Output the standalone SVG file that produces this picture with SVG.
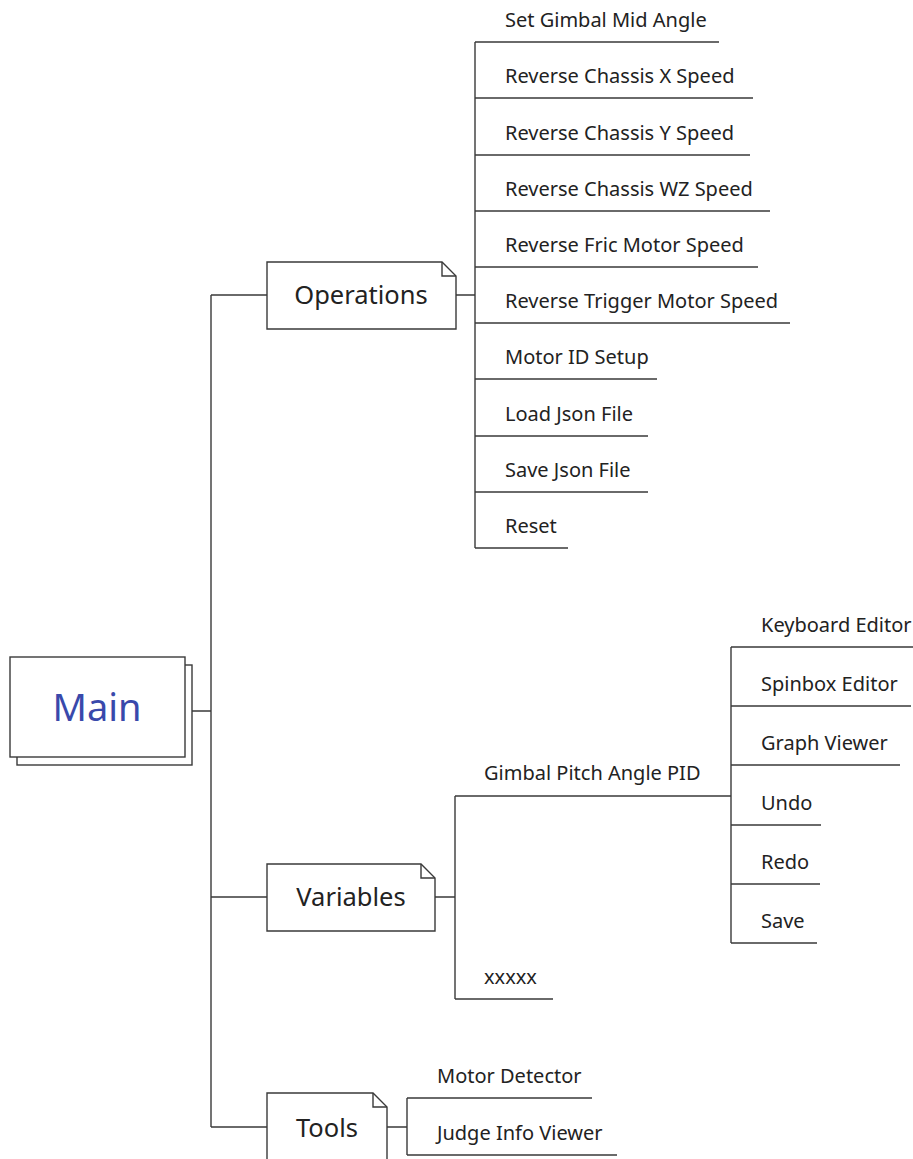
<svg xmlns="http://www.w3.org/2000/svg" width="913" height="1159" viewBox="0 0 913 1159">
  <style>
    .ln { fill: none; stroke: #3a3a3a; stroke-width: 1.4; }
    .box { fill: #ffffff; stroke: #3a3a3a; stroke-width: 1.4; }
    .leaf { font-family: "Noto Sans", "DejaVu Sans", sans-serif; font-size: 20px; fill: #222222; }
    .topic { font-family: "Noto Sans", "DejaVu Sans", sans-serif; font-size: 25.5px; fill: #222222; text-anchor: middle; }
    .root { font-family: "Noto Sans", "DejaVu Sans", sans-serif; font-size: 38px; fill: #3949ab; text-anchor: middle; }
  </style>
  <rect width="913" height="1159" fill="#ffffff"/>

  <!-- connectors -->
  <g id="connectors" class="ln">
    <!-- root to trunk -->
    <path d="M192 711 H211 M211 295 V1127"/>
    <path d="M211 295 H267 M211 897 H267 M211 1127 H267"/>
    <!-- Operations branch -->
    <path d="M456 295 H475 M475 42 V548"/>
    <path d="M475 42 H719 M475 98 H753 M475 155 H750 M475 211 H770 M475 267 H758 M475 323 H790 M475 379 H657 M475 436 H648 M475 492 H648 M475 548 H568"/>
    <!-- Variables branch -->
    <path d="M435 897 H455 M455 796 V999"/>
    <path d="M455 796 H731 M455 999 H553"/>
    <!-- PID sub-branch -->
    <path d="M731 647 V943"/>
    <path d="M731 647 H913 M731 706 H911 M731 765 H900 M731 825 H821 M731 884 H820 M731 943 H817"/>
    <!-- Tools branch -->
    <path d="M387 1127 H407 M407 1098 V1155"/>
    <path d="M407 1098 H592 M407 1155 H617"/>
  </g>

  <!-- root node -->
  <g id="main">
    <rect class="box" x="17" y="665" width="175" height="100"/>
    <rect class="box" x="10" y="657" width="175" height="100"/>
    <text class="root" x="97" y="721">Main</text>
  </g>

  <!-- topic nodes -->
  <g id="operations">
    <path class="box" d="M267 262 H442 L456 276 V329 H267 Z"/>
    <path class="ln" d="M442 262 V276 H456"/>
    <text class="topic" x="361" y="304">Operations</text>
  </g>
  <g id="variables">
    <path class="box" d="M267 864 H421 L435 878 V931 H267 Z"/>
    <path class="ln" d="M421 864 V878 H435"/>
    <text class="topic" x="351" y="906">Variables</text>
  </g>
  <g id="tools">
    <path class="box" d="M267 1093 H373 L387 1107 V1170 H267 Z"/>
    <path class="ln" d="M373 1093 V1107 H387"/>
    <text class="topic" x="327" y="1137">Tools</text>
  </g>

  <!-- Operations items -->
  <g id="op-items" class="leaf">
    <text id="op-gimbal-mid" x="505" y="27">Set Gimbal Mid Angle</text>
    <text id="op-rev-x" x="505" y="83">Reverse Chassis X Speed</text>
    <text id="op-rev-y" x="505" y="140">Reverse Chassis Y Speed</text>
    <text id="op-rev-wz" x="505" y="196">Reverse Chassis WZ Speed</text>
    <text id="op-rev-fric" x="505" y="252">Reverse Fric Motor Speed</text>
    <text id="op-rev-trigger" x="505" y="308">Reverse Trigger Motor Speed</text>
    <text id="op-motor-id" x="505" y="364">Motor ID Setup</text>
    <text id="op-load" x="505" y="421">Load Json File</text>
    <text id="op-save" x="505" y="477">Save Json File</text>
    <text id="op-reset" x="505" y="533">Reset</text>
  </g>

  <!-- Variables items -->
  <g id="var-items" class="leaf">
    <text id="var-pid" x="484" y="780">Gimbal Pitch Angle PID</text>
    <text id="var-x" x="484" y="984">xxxxx</text>
  </g>

  <!-- PID items -->
  <g id="pid-items" class="leaf">
    <text id="pid-keyboard" x="761" y="632">Keyboard Editor</text>
    <text id="pid-spinbox" x="761" y="691">Spinbox Editor</text>
    <text id="pid-graph" x="761" y="750">Graph Viewer</text>
    <text id="pid-undo" x="761" y="810">Undo</text>
    <text id="pid-redo" x="761" y="869">Redo</text>
    <text id="pid-save" x="761" y="928">Save</text>
  </g>

  <!-- Tools items -->
  <g id="tool-items" class="leaf">
    <text id="tool-motor" x="437" y="1083">Motor Detector</text>
    <text id="tool-judge" x="437" y="1140">Judge Info Viewer</text>
  </g>
</svg>
